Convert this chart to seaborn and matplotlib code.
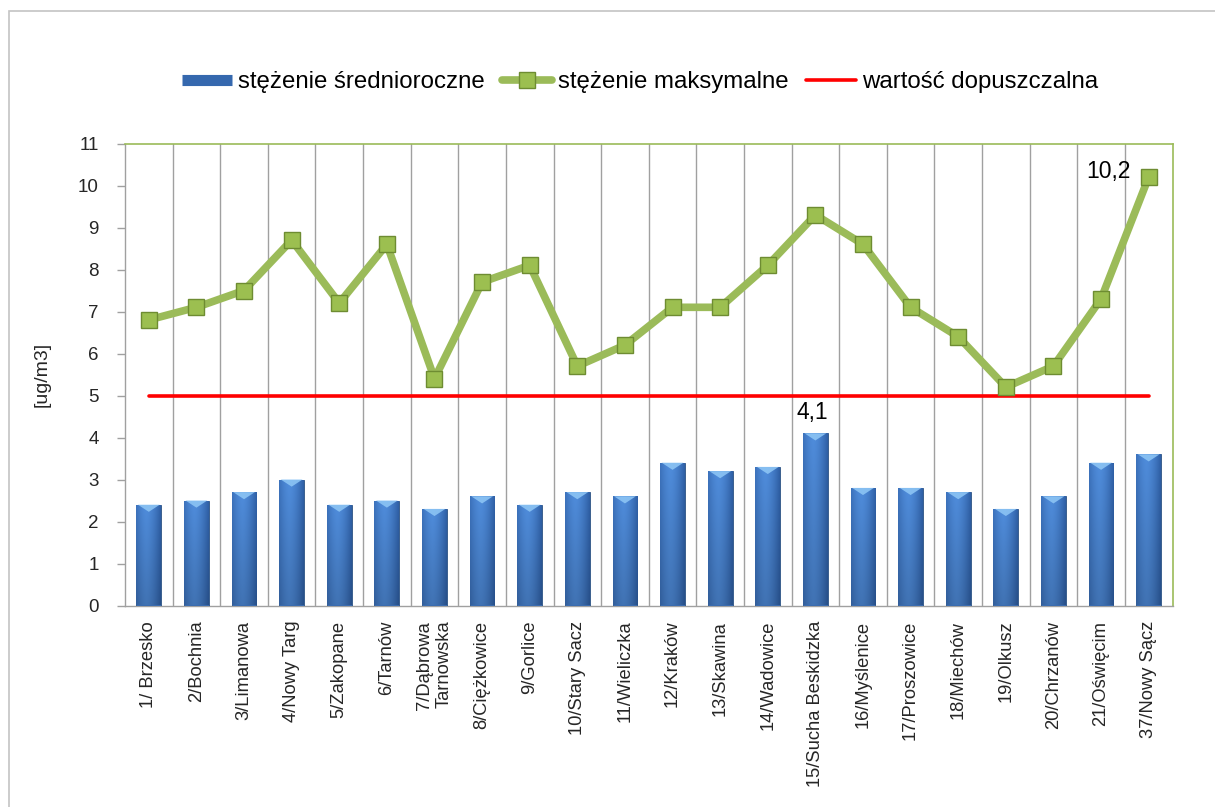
import numpy as np
import matplotlib
matplotlib.use("Agg")
import matplotlib.pyplot as plt
from matplotlib import font_manager
from matplotlib.lines import Line2D
from matplotlib.patches import Rectangle
import seaborn as sns

# Stations (x categories)
stations = [
    "1/ Brzesko", "2/Bochnia", "3/Limanowa", "4/Nowy Targ", "5/Zakopane",
    "6/Tarnów", "7/Dąbrowa\nTarnowska", "8/Ciężkowice", "9/Gorlice",
    "10/Stary Sacz", "11/Wieliczka", "12/Kraków", "13/Skawina",
    "14/Wadowice", "15/Sucha Beskidzka", "16/Myślenice", "17/Proszowice",
    "18/Miechów", "19/Olkusz", "20/Chrzanów", "21/Oświęcim", "37/Nowy Sącz",
]
# Annual mean concentration
mean_vals = [2.4, 2.5, 2.7, 3.0, 2.4, 2.5, 2.3, 2.6, 2.4, 2.7, 2.6,
             3.4, 3.2, 3.3, 4.1, 2.8, 2.8, 2.7, 2.3, 2.6, 3.4, 3.6]
# Maximum concentration
max_vals = [6.8, 7.1, 7.5, 8.7, 7.2, 8.6, 5.4, 7.7, 8.1, 5.7, 6.2,
            7.1, 7.1, 8.1, 9.3, 8.6, 7.1, 6.4, 5.2, 5.7, 7.3, 10.2]
# Permissible value
limit_val = 5.0
y_ticks = list(range(0, 12))
legend_labels = ["stężenie średnioroczne", "stężenie maksymalne", "wartość dopuszczalna"]
ylabel_text = "[ug/m3]"
# Labelled points (index into the series)
label_mean_idx = 14
label_max_idx = 21

sns.set_theme(style="white")


def pick_font(names):
    for n in names:
        try:
            font_manager.findfont(n, fallback_to_default=False)
            return n
        except ValueError:
            pass
    return "DejaVu Sans"


family = pick_font(["Liberation Sans", "Arial"])
plt.rcParams["font.family"] = [family, "DejaVu Sans"]
plt.rcParams["text.color"] = "#000000"

FS_TICK = 13.5
FS_XLAB = 13.2
FS_LEG = 17.3
FS_ANN = 16.5

W, H = 1215, 807
fig = plt.figure(figsize=(W / 100, H / 100), dpi=100)
fig.patch.set_facecolor("white")

# outer chart frame
fig.patches.append(Rectangle((8.5 / W, -0.1), 2.0, (H - 10.5) / H + 0.1,
                             transform=fig.transFigure, fill=False,
                             edgecolor="#C4C4C4", lw=1.2))

left, right, top, bottom = 125, 1172.5, 143.5, 605.5
ax = fig.add_axes([left / W, 1 - bottom / H, (right - left) / W, (bottom - top) / H])

n = len(stations)
pos = np.arange(n)

bar_color = "#3A6CB0"
sns.barplot(x=stations, y=mean_vals, ax=ax, color=bar_color, width=0.52,
            edgecolor="#2C5283", linewidth=0.6, saturation=1, zorder=3)

ax.set_xlim(-0.5, n - 0.5)
ax.set_ylim(0, 11)
ax.autoscale(False)

# shaded fill for the bars
grad_h = np.linspace(0, 1, 64)
profile = 1 - 0.55 * (2 * np.abs(grad_h - 0.42)) ** 1.6
light = np.array([0.31, 0.55, 0.86])
dark = np.array([0.13, 0.30, 0.56])
vert = np.linspace(0.82, 1.0, 64)[:, None]
img = (dark[None, None, :] + (light - dark)[None, None, :] * profile[None, :, None]) * vert[:, :, None]
img = np.clip(img, 0, 1)
for p in ax.patches:
    x0, y0 = p.get_x(), p.get_y()
    w, h = p.get_width(), p.get_height()
    im = ax.imshow(img, extent=(x0, x0 + w, y0, y0 + h), origin="lower",
                   aspect="auto", zorder=3.5, interpolation="bilinear")
    im.set_clip_path(p)
    # light chevron at the top of each bar
    tri = plt.Polygon([(x0 + 0.06 * w, y0 + h), (x0 + 0.94 * w, y0 + h),
                       (x0 + w / 2, y0 + h - 0.17)], closed=True,
                      facecolor="#8CC4F4", edgecolor="none", alpha=0.9, zorder=3.6)
    ax.add_patch(tri)

# permissible value line
sns.lineplot(x=[pos[0], pos[-1]], y=[limit_val, limit_val], ax=ax, color="#FF0000",
             lw=2.6, zorder=4)

# maximum concentration line
sns.lineplot(x=pos, y=max_vals, ax=ax, color="#9BBB59", lw=5.5, zorder=5,
             marker="s", markersize=11.5, markerfacecolor="#9CBF50",
             markeredgecolor="#6E8C32", markeredgewidth=1.0)

# vertical category separators
for b in np.arange(0.5, n - 0.5, 1.0):
    ax.axvline(b, color="#A0A0A0", lw=1.0, zorder=1)

ax.set_yticks(y_ticks)
ax.set_yticklabels([str(t) for t in y_ticks], fontsize=FS_TICK)
ax.set_xticks(pos)
ax.set_xticklabels(stations, rotation=90, fontsize=FS_XLAB, va="top", ha="center",
                   multialignment="right", linespacing=1.25)
ax.set_xticks(np.arange(-0.5, n, 1.0), minor=True)
ax.tick_params(axis="x", which="major", length=0, pad=11)
ax.tick_params(axis="x", which="minor", length=6, width=1, color="#A0A0A0", direction="out")
ax.tick_params(axis="y", length=6, width=1, color="#A0A0A0", direction="out", pad=13,
               left=True)
ax.set_xlabel("")
ax.set_ylabel(ylabel_text, fontsize=14)
ax.yaxis.set_label_coords(-0.071, 0.5)

for s in ["left", "bottom"]:
    ax.spines[s].set_color("#A0A0A0")
    ax.spines[s].set_linewidth(1.0)
for s in ["top", "right"]:
    ax.spines[s].set_color("#9BBB59")
    ax.spines[s].set_linewidth(1.2)
ax.grid(False)

# value labels
ax.annotate(f"{max_vals[label_max_idx]:.1f}".replace(".", ","),
            xy=(pos[label_max_idx], max_vals[label_max_idx]),
            xytext=(-13, 4), textcoords="offset points", ha="right", va="center",
            fontsize=FS_ANN, zorder=6)
ax.annotate(f"{mean_vals[label_mean_idx]:.1f}".replace(".", ","),
            xy=(pos[label_mean_idx], mean_vals[label_mean_idx]),
            xytext=(-2, 7), textcoords="offset points", ha="center", va="bottom",
            fontsize=FS_ANN, zorder=6)

handles = [
    Line2D([], [], color="#3568AE", lw=8, solid_capstyle="butt"),
    Line2D([], [], color="#9BBB59", lw=5.5, marker="s", markersize=11.5,
           markerfacecolor="#9CBF50", markeredgecolor="#6E8C32"),
    Line2D([], [], color="#FF0000", lw=2.6),
]
fig.legend(handles, legend_labels, loc="center", ncol=3,
           bbox_to_anchor=(640 / W, 1 - 82 / H), frameon=False,
           fontsize=FS_LEG, handlelength=2.1, handletextpad=0.25,
           columnspacing=0.7)

fig.savefig("out.png", dpi=100, facecolor="white")
